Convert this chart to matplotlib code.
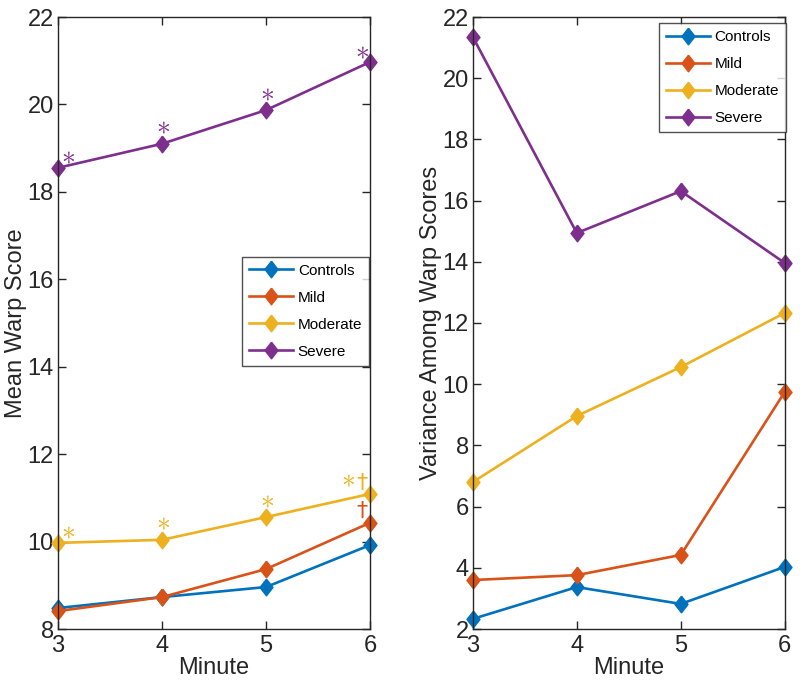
import matplotlib
matplotlib.use('Agg')
import matplotlib.pyplot as plt

plt.rcParams['font.family'] = ['Liberation Sans', 'DejaVu Sans']

minutes = [3, 4, 5, 6]
groups = ['Controls', 'Mild', 'Moderate', 'Severe']
colors = ['#0072BD', '#D95319', '#EDB120', '#7E2F8E']

# mean warp score per group
mean_controls = [8.48, 8.73, 8.96, 9.92]
mean_mild = [8.41, 8.73, 9.37, 10.43]
mean_moderate = [9.97, 10.04, 10.56, 11.09]
mean_severe = [18.55, 19.10, 19.87, 20.97]

# variance among warp scores per group
var_controls = [2.33, 3.37, 2.82, 4.03]
var_mild = [3.60, 3.76, 4.42, 9.75]
var_moderate = [6.80, 8.96, 10.56, 12.33]
var_severe = [21.35, 14.94, 16.31, 13.96]

# significance marks on the left panel
marks_mild = ['', '', '', '†']
marks_moderate = ['*', '*', '*', '*†']
marks_severe = ['*', '*', '*', '*']

mean_series = [mean_controls, mean_mild, mean_moderate, mean_severe]
var_series = [var_controls, var_mild, var_moderate, var_severe]
mark_series = [None, marks_mild, marks_moderate, marks_severe]

fig = plt.figure(figsize=(8, 6.8), dpi=100)
ax1 = fig.add_axes([0.0725, 0.075, 0.39, 0.9])
ax2 = fig.add_axes([0.591, 0.075, 0.39, 0.9])

PX = 0.72  # points per pixel at dpi 100
# matlab style diamond, a bit taller than wide
diamond = [(0, 1), (0.78, 0), (0, -1), (-0.78, 0), (0, 1)]


def style_axis(ax, ylim, yticks, ylabel):
    ax.set_xlim(3, 6)
    ax.set_ylim(*ylim)
    ax.set_xticks(minutes)
    ax.set_yticks(yticks)
    ax.tick_params(direction='in', top=True, right=True, labelsize=17, length=6,
                   width=1, colors='#262626', pad=3)
    ax.tick_params(axis='x', pad=4)
    for s in ax.spines.values():
        s.set_color('#262626')
        s.set_linewidth(1)
    ax.set_xlabel('Minute', fontsize=17, color='#262626', labelpad=0)
    ax.set_ylabel(ylabel, fontsize=17, color='#262626', labelpad=0)


def add_legend(ax, anchor):
    leg = ax.legend(loc='upper left', bbox_to_anchor=anchor, fontsize=11, frameon=True,
                    fancybox=False, edgecolor='#262626', handlelength=2.9, borderpad=0.45,
                    labelspacing=0.85, handletextpad=0.3, borderaxespad=0)
    leg.get_frame().set_linewidth(1)


def draw_mark(ax, x, y, ch, dx_px, dy_px, color):
    # glyph centred at (dx_px, dy_px) pixels from the data point
    if ch == '*':
        txt, size, fam = r'$\ast$', 20, 'cm'
    else:
        txt, size, fam = r'$\dagger$', 16, 'dejavusans'
    ax.annotate(txt, (x, y), xytext=(dx_px * PX, dy_px * PX), textcoords='offset points',
                ha='center', va='center', fontsize=size, color=color,
                math_fontfamily=fam, annotation_clip=False)


def draw_lines(ax, series):
    for vals, c, g in zip(series, colors, groups):
        ax.plot(minutes, vals, color=c, lw=1.9, marker=diamond, ms=12, mew=1,
                label=g, clip_on=False)


draw_lines(ax1, mean_series)

dx = [9, 0, 0, -9]
dy = [11, 17, 17, 11]
for vals, c, marks in zip(mean_series, colors, mark_series):
    if marks is None:
        continue
    for i, (x, y, m) in enumerate(zip(minutes, vals, marks)):
        for k, ch in enumerate(reversed(m)):
            off_x = dx[i] + 1 - 14 * k
            off_y = dy[i] + (3 if (ch == '*' and k > 0) else 0)
            draw_mark(ax1, x, y, ch, off_x, off_y, c)

style_axis(ax1, (8, 22), range(8, 23, 2), 'Mean Warp Score')
add_legend(ax1, (0.59, 0.608))

draw_lines(ax2, var_series)
style_axis(ax2, (2, 22), range(2, 23, 2), 'Variance Among Warp Scores')
add_legend(ax2, (0.596, 0.99))

fig.savefig('out.png', dpi=100)
